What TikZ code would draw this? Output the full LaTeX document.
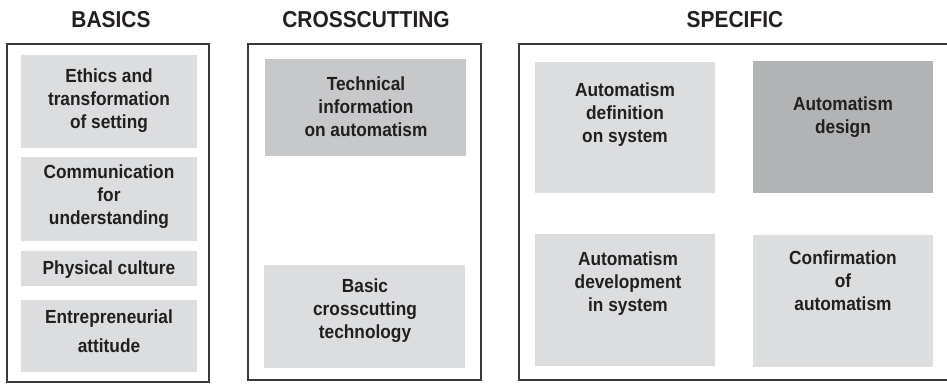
\documentclass[tikz,border=0pt]{standalone}
\usepackage{fontspec}
\setmainfont{Liberation Sans}
\newfontfamily\narrowsans[FakeStretch=0.91]{Liberation Sans}
\usetikzlibrary{positioning}

\definecolor{boxlight}{HTML}{DCDDDF}
\definecolor{boxmid}{HTML}{C7C8CA}
\definecolor{boxdark}{HTML}{B2B3B5}
\definecolor{framegray}{HTML}{3A3A3A}
\definecolor{inkgray}{HTML}{231F20}

\tikzset{
  panel/.style={draw=framegray, line width=1.1pt},
  head/.style={font=\narrowsans\fontsize{23}{26}\selectfont\bfseries, text=inkgray, anchor=base, inner sep=0pt},
  lbl/.style={font=\narrowsans\fontsize{19}{23}\selectfont\bfseries, text=inkgray, align=center, inner sep=0pt}
}

\begin{document}
\begin{tikzpicture}[x=1pt,y=-1pt]
\useasboundingbox (0,0) rectangle (947,383);
\clip (0,0) rectangle (947,383);

% headings
\node[head] (basics) at (111,27) {BASICS};
\node[head] (cross) at (366,27) {CROSSCUTTING};
\node[head] (specific) at (735,27) {SPECIFIC};

% panels
\draw[panel] (7,44) rectangle (209,382);
\draw[panel] (248,44) rectangle (481,380);
\draw[panel] (519,44) rectangle (965,380);

% basics column
\foreach \ya/\yb in {55/148,157/241,251/286,300/372}
\fill[boxlight] (21,\ya) rectangle (197,\yb);
\node[lbl] (ethics) at (109,101) {Ethics and\\transformation\\of setting};
\node[lbl] (commun) at (109,196.5) {Communication\\for\\understanding};
\node[lbl] (physic) at (109,269.5) {Physical culture};
\node[lbl] (entrep) at (109,331) {Entrepreneurial\\[6pt]attitude};

% crosscutting column
\fill[boxmid] (265,59) rectangle (466,156);
\fill[boxlight] (264,265) rectangle (465,368);
\node[lbl] (techinfo) at (366,107) {Technical\\information\\on automatism};
\node[lbl] (basictech) at (365,311) {Basic\\crosscutting\\technology};

% specific column
\fill[boxlight] (535,62) rectangle (715,193);
\fill[boxdark] (753,61) rectangle (933,193);
\fill[boxlight] (535,234) rectangle (715,366);
\fill[boxlight] (753,235) rectangle (933,367);
\node[lbl] (autodef) at (625,115) {Automatism\\definition\\on system};
\node[lbl] (autodesign) at (843,117) {Automatism\\design};
\node[lbl] (autodev) at (628,283.5) {Automatism\\development\\in system};
\node[lbl] (autoconf) at (843,281) {Confirmation\\of\\automatism};

\end{tikzpicture}
\end{document}
